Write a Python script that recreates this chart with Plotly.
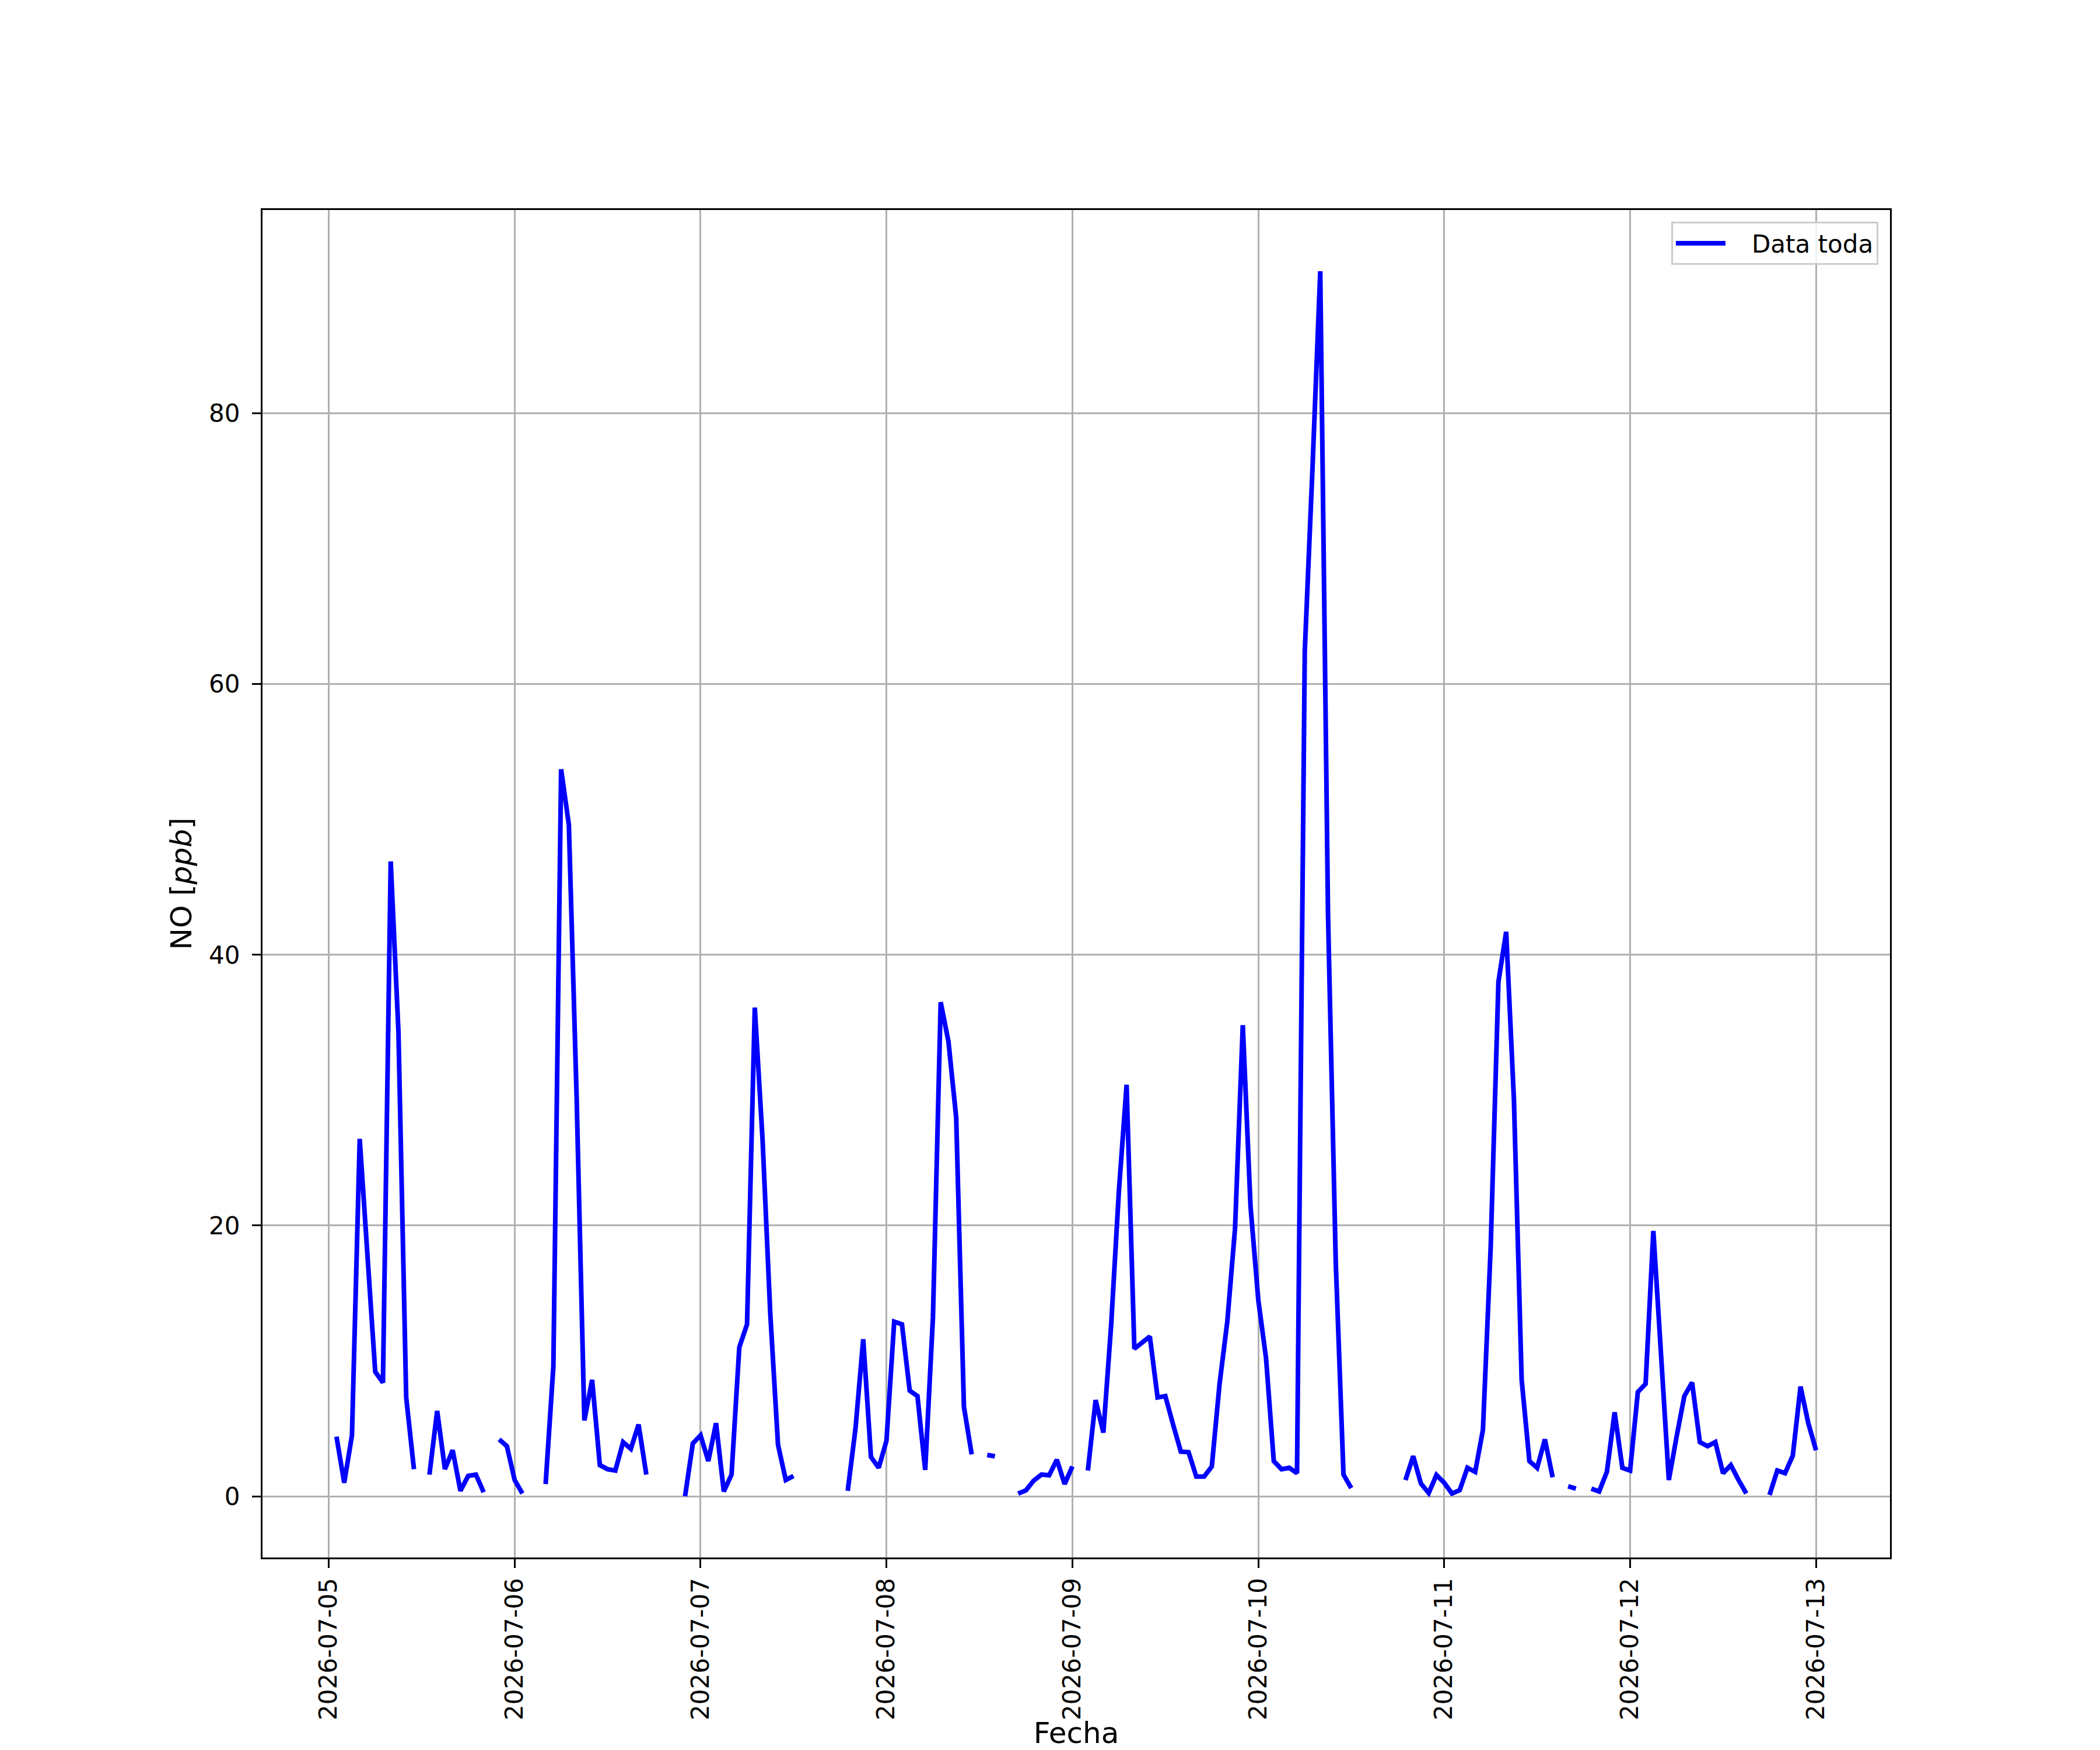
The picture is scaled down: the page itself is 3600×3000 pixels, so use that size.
"""
NO hourly series, 2026-07-05 .. 2026-07-13 (Plotly version of the matplotlib figure)
"""

import pandas as pd
import plotly.graph_objects as go

# --- Data: NO [ppb], one value per hour (00..23), None = missing ---
no_0705 = [None, 4.4, 1.0, 4.5, 26.4, 17.8, 9.2, 8.4, 46.9, 34.3, 7.3, 2.0,
           None, 1.6, 6.3, 2.0, 3.4, 0.4, 1.5, 1.6, 0.3, None, 4.2, 3.7]
no_0706 = [1.2, 0.2, None, None, 0.9, 9.6, 53.7, 49.6, 29.5, 5.6, 8.6, 2.3,
           2.0, 1.9, 4.0, 3.5, 5.3, 1.6, None, None, None, None, 0.0, 3.9]
no_0707 = [4.5, 2.6, 5.4, 0.35, 1.6, 11.0, 12.7, 36.1, 26.4, 13.5, 3.8, 1.2,
           1.5, None, None, None, None, None, None, 0.4, 5.0, 11.6, 2.9, 2.1]
no_0708 = [4.1, 12.9, 12.7, 7.8, 7.4, 1.95, 13.2, 36.5, 33.6, 28.0, 6.6, 3.1,
           None, 3.05, 2.95, None, None, 0.2, 0.43, 1.15, 1.6, 1.55, 2.7, 0.9]
no_0709 = [2.2, None, 1.9, 7.1, 4.7, 12.6, 22.5, 30.4, 10.9, 11.4, 11.8, 7.3,
           7.4, 5.3, 3.3, 3.25, 1.45, 1.45, 2.2, 8.3, 12.9, 19.8, 34.8, 21.4]
no_0710 = [14.5, 10.2, 2.6, 2.0, 2.1, 1.7, 62.4, 76.0, 90.5, 43.0, 17.3, 1.6,
           0.6, None, None, None, None, None, None, 1.2, 2.96, 0.93, 0.24, 1.57]
no_0711 = [1.0, 0.2, 0.45, 2.1, 1.8, 4.9, 18.4, 38.0, 41.7, 29.3, 8.6, 2.6,
           2.1, 4.2, 1.4, None, 0.74, 0.56, None, 0.56, 0.35, 1.8, 6.2, 2.1]
no_0712 = [1.9, 7.7, 8.3, 19.6, 10.0, 1.2, 4.4, 7.4, 8.4, 4.0, 3.7, 4.0,
           1.7, 2.3, 1.2, 0.2, None, None, 0.1, 1.9, 1.7, 3.0, 8.1, 5.4]
no_0713 = [3.4]

dias = ["2026-07-05", "2026-07-06", "2026-07-07", "2026-07-08",
        "2026-07-09", "2026-07-10", "2026-07-11", "2026-07-12", "2026-07-13"]
y_ticks = [0, 20, 40, 60, 80]

valores = no_0705 + no_0706 + no_0707 + no_0708 + no_0709 + no_0710 + no_0711 + no_0712 + no_0713
fechas = pd.date_range("2026-07-05 00:00", periods=len(valores), freq="h")

# matplotlib-like autoscale margins (5 %)
t_ok = [t for t, v in zip(fechas, valores) if v is not None]
v_ok = [v for v in valores if v is not None]
dt = (t_ok[-1] - t_ok[0]) * 0.05
dv = (max(v_ok) - min(v_ok)) * 0.05
x_range = [t_ok[0] - dt, t_ok[-1] + dt]
y_range = [min(v_ok) - dv, max(v_ok) + dv]

FONT = "DejaVu Sans"
GRID = "#b0b0b0"

fig = go.Figure()
fig.add_trace(
    go.Scatter(
        x=fechas,
        y=valores,
        mode="lines",
        name="\u00a0\u00a0\u00a0Data toda",
        line=dict(color="#0000ff", width=8),
        connectgaps=False,
    )
)

axis_common = dict(
    showgrid=True,
    gridcolor=GRID,
    gridwidth=3.3,
    showline=True,
    linecolor="black",
    linewidth=3.3,
    mirror=True,
    ticks="outside",
    ticklen=15,
    tickwidth=3.3,
    tickcolor="black",
    tickfont=dict(family=FONT, size=42, color="black"),
    zeroline=False,
)

fig.update_xaxes(
    **axis_common,
    type="date",
    range=x_range,
    tickmode="array",
    tickvals=pd.to_datetime(dias),
    ticktext=dias,
    tickangle=-90,
    ticklabelstandoff=0,
    title=dict(text="Fecha", font=dict(family=FONT, size=50, color="black"), standoff=21),
)
fig.update_yaxes(
    **axis_common,
    range=y_range,
    tickmode="array",
    tickvals=y_ticks,
    ticklabelstandoff=12,
    title=dict(text="NO [<i>ppb</i>]", font=dict(family=FONT, size=50, color="black"), standoff=14),
)

# page body adds ~8 px offset, so shave it off the left/top margins
fig.update_layout(
    width=3592,
    height=2992,
    margin=dict(l=442, r=360, t=352, b=330, autoexpand=False),
    paper_bgcolor="white",
    plot_bgcolor="white",
    font=dict(family=FONT, size=42, color="black"),
    showlegend=True,
    legend=dict(
        x=0.9928,
        y=0.9913,
        xanchor="right",
        yanchor="top",
        bgcolor="rgba(255,255,255,0.8)",
        bordercolor="#cccccc",
        borderwidth=3,
        itemwidth=85,
        font=dict(family=FONT, size=42, color="black"),
    ),
)

fig.write_html("out.html")
print("Saved: out.html")
